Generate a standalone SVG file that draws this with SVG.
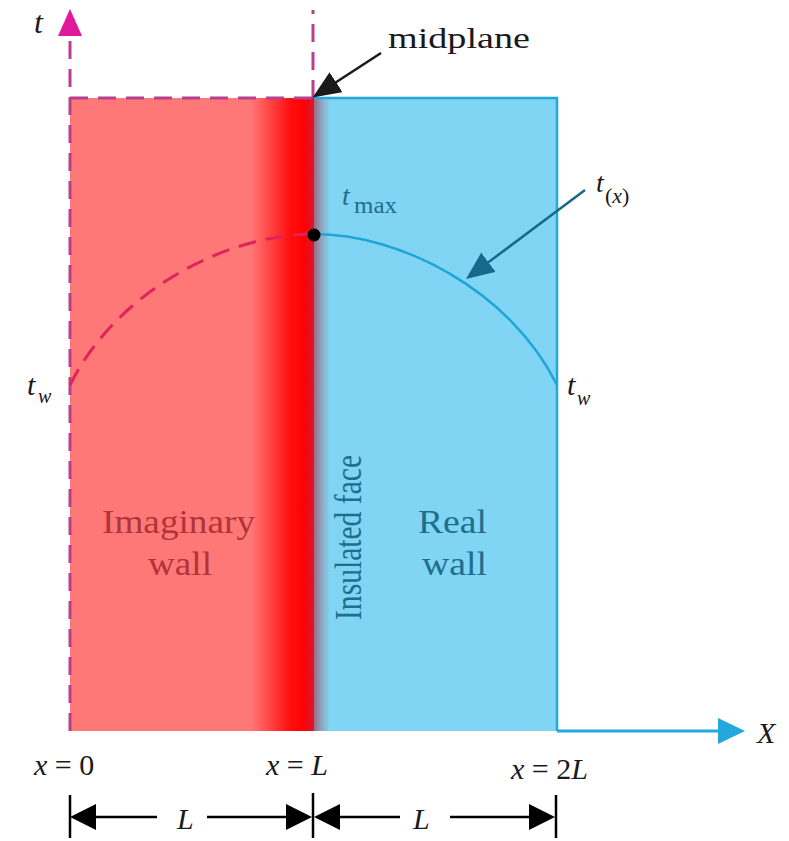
<svg xmlns="http://www.w3.org/2000/svg" width="789" height="841" viewBox="0 0 789 841">
<style>
.serif{font-family:"Liberation Serif","Times New Roman",serif}
.it{font-style:italic}
.dash{fill:none;stroke:#b8408e;stroke-width:3;stroke-dasharray:18 10}
.blk{fill:none;stroke:#1a1a1a;stroke-width:2.5}
.dim{fill:none;stroke:#000;stroke-width:2.5}
</style>
<defs>
<linearGradient id="redg" gradientUnits="userSpaceOnUse" x1="70" y1="0" x2="314" y2="0">
<stop offset="0" stop-color="#ff7878"/>
<stop offset="0.74" stop-color="#ff7878"/>
<stop offset="0.9" stop-color="#ff1010"/>
<stop offset="0.96" stop-color="#ff0000"/>
<stop offset="1" stop-color="#d81830"/>
</linearGradient>
<linearGradient id="blueg" gradientUnits="userSpaceOnUse" x1="314" y1="0" x2="557" y2="0">
<stop offset="0" stop-color="#9a6c84"/>
<stop offset="0.03" stop-color="#8ea4bc"/>
<stop offset="0.065" stop-color="#80d4f4"/>
<stop offset="1" stop-color="#80d4f4"/>
</linearGradient>
<pattern id="hatch" patternUnits="userSpaceOnUse" x="0" y="0" width="12" height="12">
<line x1="0" y1="10" x2="8" y2="2" stroke="#b02848" stroke-width="1.3" opacity="0.7"/>
</pattern>
<marker id="ah" viewBox="0 0 26 26" refX="16" refY="13" markerWidth="26" markerHeight="26" markerUnits="userSpaceOnUse" orient="auto">
<path d="M0,0 L26,13 L0,26 z" fill="#000"/>
</marker>
<marker id="ahm" viewBox="0 0 28 24" refX="18" refY="12" markerWidth="28" markerHeight="24" markerUnits="userSpaceOnUse" orient="auto">
<path d="M0,0 L28,12 L0,24 z" fill="#1a1a1a"/>
</marker>
<marker id="aht" viewBox="0 0 28 24" refX="18" refY="12" markerWidth="28" markerHeight="24" markerUnits="userSpaceOnUse" orient="auto">
<path d="M0,0 L28,12 L0,24 z" fill="#16698a"/>
</marker>
</defs>

<g id="imaginary-wall">
<rect x="70" y="98" width="244" height="633" fill="url(#redg)"/>
<rect x="305" y="98" width="9" height="633" fill="url(#hatch)"/>
<text class="serif" x="102" y="533" font-size="33" fill="#b0343a" textLength="153" lengthAdjust="spacingAndGlyphs">Imaginary</text>
<text class="serif" x="148" y="575" font-size="33" fill="#b0343a" textLength="64" lengthAdjust="spacingAndGlyphs">wall</text>
</g>

<g id="real-wall">
<rect x="314" y="98" width="243" height="633" fill="url(#blueg)"/>
<path d="M314,98 H557 V731" fill="none" stroke="#22a8dc" stroke-width="2.5"/>
<text class="serif" x="418" y="533" font-size="33" fill="#1e6f8c" textLength="69" lengthAdjust="spacingAndGlyphs">Real</text>
<text class="serif" x="422" y="575" font-size="33" fill="#1e6f8c" textLength="65" lengthAdjust="spacingAndGlyphs">wall</text>
</g>

<g id="insulated-face">
<text class="serif" transform="translate(361,620) scale(1.2,1) rotate(-90)" x="0" y="0" font-size="31" fill="#1e6f8c" textLength="165" lengthAdjust="spacingAndGlyphs">Insulated face</text>
</g>

<g id="t-axis">
<line class="dash" x1="70" y1="731" x2="70" y2="34"/>
<polygon points="70,9 82,36 58,36" fill="#e0189c"/>
<text class="serif it" x="34" y="33" font-size="32" fill="#1a1a1a">t</text>
</g>

<g id="midplane-line">
<line class="dash" x1="313" y1="98" x2="313" y2="10"/>
<line class="dash" x1="70" y1="98" x2="313" y2="98"/>
</g>

<g id="x-axis">
<line x1="557" y1="731" x2="722" y2="731" stroke="#22a8dc" stroke-width="3"/>
<polygon points="745,731 718,718 718,744" fill="#22a8dc"/>
<text class="serif it" x="757" y="743" font-size="30" fill="#1a1a1a">X</text>
</g>

<g id="temperature-profile">
<path d="M70,385 C117,290 228,234 314,234" fill="none" stroke="#e0245a" stroke-width="3" stroke-dasharray="18 10"/>
<path d="M314,234 C400,234 510,290 557,385" fill="none" stroke="#1ea6d6" stroke-width="2.5"/>
<circle cx="314" cy="235" r="6.5" fill="#000"/>
</g>

<g id="labels">
<text class="serif" x="388" y="48" font-size="29" fill="#1a1a1a" textLength="142" lengthAdjust="spacingAndGlyphs">midplane</text>
<text class="serif it" x="342" y="205" font-size="28" fill="#1e6f8c">t</text>
<text class="serif" x="354" y="213" font-size="24" fill="#1e6f8c" textLength="43" lengthAdjust="spacingAndGlyphs">max</text>
<text class="serif it" x="596" y="192" font-size="28" fill="#1a1a1a">t</text>
<text class="serif" x="605" y="203" font-size="22" fill="#1a1a1a">(<tspan font-style="italic">x</tspan>)</text>
<text class="serif it" x="27" y="395" font-size="30" fill="#1a1a1a">t</text>
<text class="serif it" x="38" y="403" font-size="20" fill="#1a1a1a">w</text>
<text class="serif it" x="567" y="395" font-size="30" fill="#1a1a1a">t</text>
<text class="serif it" x="577" y="405" font-size="20" fill="#1a1a1a">w</text>
<text class="serif" x="34" y="775" font-size="30" fill="#1a1a1a"><tspan font-style="italic">x</tspan> = 0</text>
<text class="serif" x="266" y="775" font-size="30" fill="#1a1a1a"><tspan font-style="italic">x</tspan> = <tspan font-style="italic">L</tspan></text>
<text class="serif" x="511" y="779" font-size="30" fill="#1a1a1a"><tspan font-style="italic">x</tspan> = 2<tspan font-style="italic">L</tspan></text>
</g>

<g id="connectors">
<line class="blk" x1="381" y1="53" x2="321" y2="92" marker-end="url(#ahm)"/>
<line x1="585" y1="190" x2="474" y2="273" stroke="#16698a" stroke-width="2.5" marker-end="url(#aht)"/>
<line class="dim" x1="70" y1="795" x2="70" y2="838"/>
<line class="dim" x1="313" y1="793" x2="313" y2="838"/>
<line class="dim" x1="556" y1="795" x2="556" y2="838"/>
<line class="dim" x1="157" y1="817" x2="80" y2="817" marker-end="url(#ah)"/>
<line class="dim" x1="207" y1="817" x2="302" y2="817" marker-end="url(#ah)"/>
<line class="dim" x1="400" y1="817" x2="324" y2="817" marker-end="url(#ah)"/>
<line class="dim" x1="450" y1="817" x2="545" y2="817" marker-end="url(#ah)"/>
<text class="serif it" x="177" y="829" font-size="30" fill="#1a1a1a">L</text>
<text class="serif it" x="413" y="829" font-size="30" fill="#1a1a1a">L</text>
</g>
</svg>
